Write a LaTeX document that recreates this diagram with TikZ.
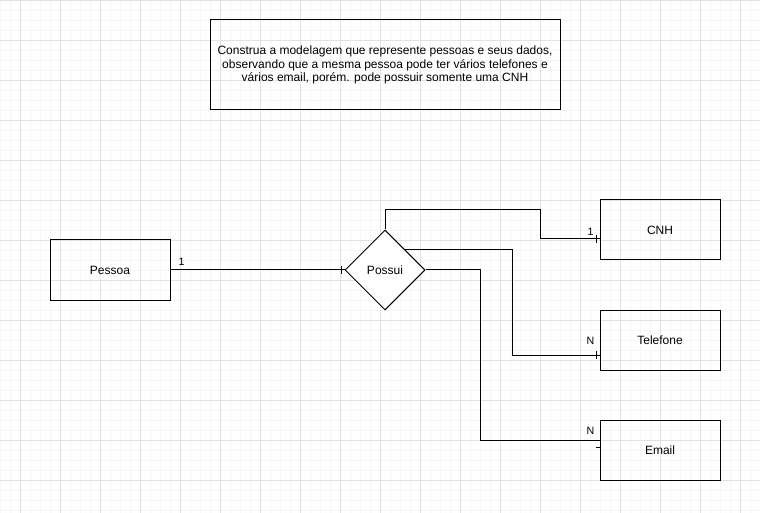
\documentclass[tikz,border=0pt]{standalone}
\usepackage{fontspec}
\setmainfont{Liberation Sans}
\usetikzlibrary{shapes.geometric,calc}
\definecolor{gridminor}{HTML}{F6F6F6}
\definecolor{gridmajor}{HTML}{E2E2E2}
\tikzset{
  entity/.style={draw,rectangle,minimum width=90pt,minimum height=45pt,inner sep=0pt,font=\fontsize{9}{10.3}\selectfont},
  relation/.style={draw,diamond,minimum width=60pt,minimum height=60pt,inner sep=0pt,fill=white,font=\fontsize{9}{10.3}\selectfont},
  card/.style={inner sep=0pt,font=\fontsize{8}{9}\selectfont},
  link/.style={line width=0.75pt},
}
\begin{document}
\begin{tikzpicture}[x=0.75pt,y=-0.75pt,line width=0.75pt]
      \useasboundingbox (0,0) rectangle (760,513);
      \fill[white] (0,0) rectangle (760,513);
      \foreach \gx in {0,10,...,760} \draw[gridminor,line width=0.6pt] (\gx,0) -- (\gx,513);
      \foreach \gy in {0,10,...,510} \draw[gridminor,line width=0.6pt] (0,\gy) -- (760,\gy);
      \foreach \gx in {20,60,...,740} \draw[gridmajor,line width=0.6pt] (\gx,0) -- (\gx,513);
      \foreach \gy in {0,40,...,480} \draw[gridmajor,line width=0.6pt] (0,\gy) -- (760,\gy);
      \node[entity,minimum width=262.5pt,minimum height=67.5pt,align=center] (enunciado) at (385,65)
        {Construa a modelagem que represente pessoas e seus dados,\\observando que a mesma pessoa pode ter vários telefones e\\vários email, porém. pode possuir somente uma CNH};
      \node[entity] (pessoa) at (110,270) {Pessoa};
      \node[relation] (possui) at (385,270) {Possui};
      \node[entity] (cnh) at (660,230) {CNH};
      \node[entity] (telefone) at (660,340) {Telefone};
      \node[entity] (email) at (660,450) {Email};
      \begin{scope}[link]
        \draw (pessoa.east) -- (possui.west);
        \draw (possui.north) |- ++(155,-20) |- ($(cnh.west)+(0,9)$);
        \draw (possui.north east) -- ++(107,0) |- ($(telefone.west)+(0,15)$);
        \draw (possui.east) -- ++(55,0) |- ($(email.west)+(0,-10)$);
        \draw ($(possui.west)+(-3,-4)$) -- ++(0,8);
        \draw ($(cnh.west)+(-3,5)$) -- ++(0,8);
        \draw ($(telefone.west)+(-3,11)$) -- ++(0,8);
        \draw ($(email.west)+(-4,-3)$) -- ++(4,0);
      \end{scope}
      \node[card] (c1) at ($(pessoa.east)+(11,-8)$) {1};
      \node[card] (c2) at ($(cnh.west)+(-9,2)$) {1};
      \node[card] (c3) at ($(telefone.west)+(-9,1)$) {N};
      \node[card] (c4) at ($(email.west)+(-9,-19)$) {N};
    \end{tikzpicture}
\end{document}
